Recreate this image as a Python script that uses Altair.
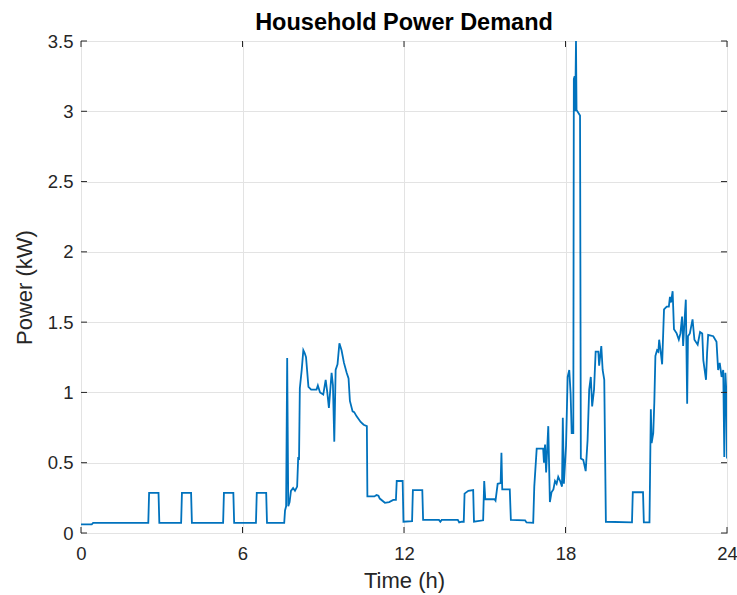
import altair as alt
import pandas as pd

# Household power demand trace (time in hours, power in kW)
time_h = [
    0, 0.4, 0.45, 2.5, 2.53, 2.88, 2.91, 3.72, 3.75, 4.09, 4.12, 5.28, 5.31, 5.66, 5.69,
    6.50, 6.53, 6.88, 6.91, 7.55, 7.58, 7.62, 7.66, 7.70, 7.75, 7.80, 7.88, 7.95, 8.03,
    8.07, 8.10, 8.13, 8.20, 8.26, 8.31, 8.36, 8.45, 8.55, 8.75, 8.80, 8.88, 9.0, 9.09,
    9.15, 9.21, 9.31, 9.36, 9.41, 9.46, 9.53, 9.60, 9.68, 9.77, 9.87, 9.94, 9.99, 10.09,
    10.15, 10.24, 10.39, 10.50, 10.62, 10.64, 10.90, 10.98, 11.05, 11.10, 11.29, 11.45,
    11.60, 11.70, 11.73, 11.95, 11.98, 12.30, 12.33, 12.68, 12.71, 13.3, 13.35, 13.4,
    14.0, 14.05, 14.15, 14.22, 14.25, 14.39, 14.57, 14.60, 14.94, 14.98, 15.02, 15.36,
    15.40, 15.48, 15.59, 15.62, 15.65, 15.93, 15.97, 16.50, 16.55, 16.80, 16.84, 16.93,
    17.17, 17.20, 17.24, 17.28, 17.36, 17.42, 17.48, 17.55, 17.61, 17.67, 17.73, 17.80,
    17.87, 17.90, 17.94, 18.02, 18.08, 18.14, 18.19, 18.23, 18.29, 18.31, 18.34, 18.36,
    18.39, 18.41, 18.54, 18.57, 18.66, 18.75, 18.82, 18.88, 18.94, 18.99, 19.06, 19.12,
    19.22, 19.25, 19.33, 19.38, 19.44, 19.50, 20.47, 20.50, 20.88, 20.91, 21.12, 21.14,
    21.17, 21.20, 21.26, 21.30, 21.34, 21.40, 21.45, 21.48, 21.53, 21.59, 21.66, 21.76,
    21.84, 21.88, 21.92, 21.98, 22.03, 22.13, 22.21, 22.27, 22.33, 22.37, 22.42, 22.47,
    22.52, 22.55, 22.62, 22.72, 22.79, 22.91, 23.0, 23.08, 23.12, 23.22, 23.26, 23.30,
    23.49, 23.61, 23.67, 23.73, 23.80, 23.86, 23.90, 23.94, 23.98, 24.0,
]
power_kw = [
    0.062, 0.062, 0.072, 0.072, 0.285, 0.285, 0.072, 0.072, 0.285, 0.285, 0.072, 0.072,
    0.285, 0.285, 0.072, 0.072, 0.285, 0.285, 0.072, 0.072, 0.16, 0.19, 1.245, 0.19,
    0.22, 0.30, 0.32, 0.30, 0.33, 0.54, 0.52, 1.03, 1.16, 1.30, 1.28, 1.25, 1.04, 1.02,
    1.02, 1.05, 1.0, 0.985, 1.09, 1.0, 0.89, 1.14, 1.05, 0.65, 1.16, 1.2, 1.35, 1.30,
    1.21, 1.14, 1.10, 0.94, 0.865, 0.86, 0.83, 0.79, 0.77, 0.76, 0.26, 0.26, 0.27,
    0.265, 0.245, 0.215, 0.22, 0.235, 0.235, 0.37, 0.37, 0.08, 0.085, 0.305, 0.305,
    0.093, 0.093, 0.08, 0.093, 0.093, 0.075, 0.08, 0.08, 0.28, 0.30, 0.305, 0.08, 0.09,
    0.37, 0.24, 0.24, 0.23, 0.35, 0.355, 0.57, 0.31, 0.31, 0.093, 0.09, 0.075, 0.072,
    0.33, 0.60, 0.60, 0.50, 0.63, 0.43, 0.76, 0.22, 0.29, 0.31, 0.37, 0.35, 0.40, 0.37,
    0.33, 0.82, 0.35, 0.62, 1.11, 1.16, 0.99, 0.71, 0.71, 3.23, 3.25, 3.0, 3.5, 3.01,
    2.97, 0.53, 0.52, 0.44, 0.66, 1.02, 1.11, 0.90, 1.02, 1.29, 1.29, 1.19, 1.33, 1.16,
    1.09, 0.08, 0.076, 0.29, 0.29, 0.076, 0.076, 0.39, 0.88, 0.64, 0.71, 0.93, 1.26,
    1.30, 1.29, 1.375, 1.30, 1.20, 1.59, 1.61, 1.61, 1.68, 1.64, 1.72, 1.45, 1.42,
    1.375, 1.42, 1.54, 1.33, 1.50, 1.66, 0.92, 1.40, 1.42, 1.52, 1.375, 1.34, 1.43,
    1.42, 1.23, 1.09, 1.28, 1.41, 1.40, 1.36, 1.16, 1.21, 1.11, 1.16, 0.54, 1.14, 0.99,
    0.53,
]

x_ticks = [0, 6, 12, 18, 24]
y_ticks = [0, 0.5, 1, 1.5, 2, 2.5, 3, 3.5]

W, H = 646, 492
FONT = "Liberation Sans"
TXT = "#262626"

df = pd.DataFrame({"t": time_h, "p": power_kw})
xt = pd.DataFrame({"t": x_ticks})
yt = pd.DataFrame({"p": y_ticks})

xscale = alt.Scale(domain=[0, 24], nice=False, zero=False)
yscale = alt.Scale(domain=[0, 3.5], nice=False)

line = alt.Chart(df).mark_line(color="#0072BD", strokeWidth=1.8, clip=True).encode(
    x=alt.X("t:Q", scale=xscale,
            axis=alt.Axis(values=x_ticks, title="Time (h)", grid=True, labelFlush=False,
                          labelPadding=11, titlePadding=8, format="d")),
    y=alt.Y("p:Q", scale=yscale,
            axis=alt.Axis(values=y_ticks, title="Power (kW)", grid=True, labelFlush=False,
                          labelPadding=8, titlePadding=11, format="~g")),
)

tick_len = 6
xt_bottom = alt.Chart(xt).mark_rule(color=TXT, strokeWidth=1).encode(
    x=alt.X("t:Q", scale=xscale), y=alt.value(H), y2=alt.value(H - tick_len))
xt_top = alt.Chart(xt).mark_rule(color=TXT, strokeWidth=1).encode(
    x=alt.X("t:Q", scale=xscale), y=alt.value(0), y2=alt.value(tick_len))
yt_left = alt.Chart(yt).mark_rule(color=TXT, strokeWidth=1).encode(
    y=alt.Y("p:Q", scale=yscale), x=alt.value(0), x2=alt.value(tick_len))
yt_right = alt.Chart(yt).mark_rule(color=TXT, strokeWidth=1).encode(
    y=alt.Y("p:Q", scale=yscale), x=alt.value(W), x2=alt.value(W - tick_len))

chart = alt.layer(line, xt_bottom, xt_top, yt_left, yt_right).properties(
    width=W, height=H,
    title=alt.Title("Household Power Demand", font=FONT, fontSize=23.5,
                    fontWeight="bold", color="#000000", offset=-2),
    autosize=alt.AutoSizeParams(type="none"),
    padding={"left": 81, "top": 41, "right": 10, "bottom": 62},
    background="white",
).configure_view(
    stroke=TXT, strokeWidth=1
).configure_axis(
    domain=False, ticks=False,
    gridColor="#e3e3e3", gridWidth=1,
    labelFont=FONT, labelFontSize=18.5, labelColor=TXT,
    titleFont=FONT, titleFontSize=22, titleFontWeight="normal", titleColor=TXT,
)

chart.save("out.html", embed_options={"renderer": "svg", "actions": False})
